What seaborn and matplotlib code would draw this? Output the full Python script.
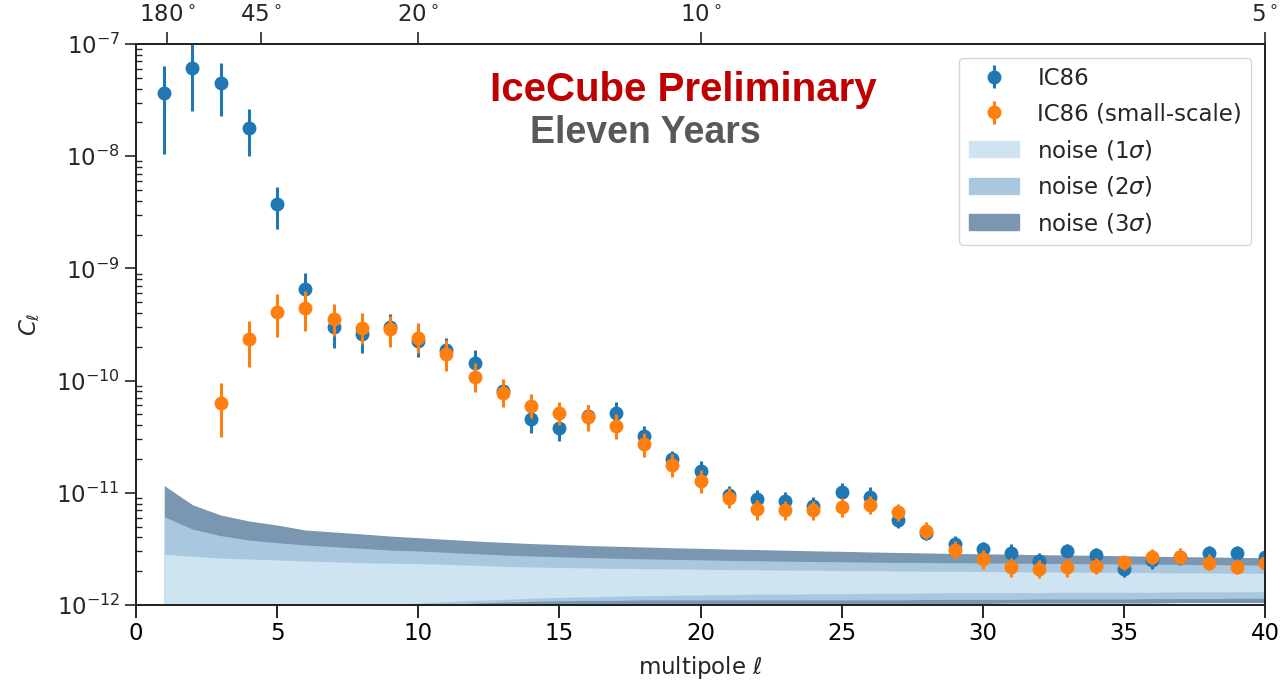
import numpy as np
import matplotlib
matplotlib.use("Agg")
import matplotlib.pyplot as plt
from matplotlib.patches import Patch
import seaborn as sns

# multipoles
ell = list(range(1, 41))
ell_small = list(range(3, 41))

# IC86 angular power spectrum with error bar ends
ic86 = [3.68e-8, 6.07e-8, 4.49e-8, 1.78e-8, 3.73e-9, 6.55e-10, 3.02e-10, 2.60e-10, 3.02e-10, 2.27e-10,
        1.87e-10, 1.44e-10, 8.13e-11, 4.55e-11, 3.80e-11, 4.84e-11, 5.18e-11, 3.21e-11, 1.99e-11, 1.57e-11,
        9.56e-12, 8.81e-12, 8.50e-12, 7.63e-12, 1.02e-11, 9.23e-12, 5.72e-12, 4.36e-12, 3.48e-12, 3.15e-12,
        2.92e-12, 2.48e-12, 3.03e-12, 2.79e-12, 2.11e-12, 2.52e-12, 2.66e-12, 2.92e-12, 2.92e-12, 2.69e-12]
ic86_hi = [6.41e-8, 1.05e-7, 6.73e-8, 2.62e-8, 5.28e-9, 9.15e-10, 4.09e-10, 3.47e-10, 3.92e-10, 3.07e-10,
           2.40e-10, 1.87e-10, 1.01e-10, 5.82e-11, 4.94e-11, 6.06e-11, 6.48e-11, 3.96e-11, 2.37e-11, 1.92e-11,
           1.15e-11, 1.06e-11, 1.02e-11, 9.18e-12, 1.23e-11, 1.12e-11, 6.88e-12, 5.16e-12, 4.12e-12, 3.66e-12,
           3.48e-12, 2.89e-12, 3.50e-12, 3.24e-12, 2.49e-12, 2.97e-12, 3.12e-12, 3.36e-12, 3.36e-12, 3.15e-12]
ic86_lo = [1.05e-8, 2.53e-8, 2.27e-8, 9.98e-9, 2.23e-9, 4.62e-10, 1.96e-10, 1.77e-10, 2.30e-10, 1.62e-10,
           1.46e-10, 1.12e-10, 6.58e-11, 3.43e-11, 2.90e-11, 3.78e-11, 4.10e-11, 2.61e-11, 1.66e-11, 1.30e-11,
           7.95e-12, 7.32e-12, 7.17e-12, 6.34e-12, 8.45e-12, 7.79e-12, 4.83e-12, 3.80e-12, 2.97e-12, 2.73e-12,
           2.52e-12, 2.14e-12, 2.62e-12, 2.42e-12, 1.77e-12, 2.09e-12, 2.27e-12, 2.57e-12, 2.57e-12, 2.32e-12]

# IC86 small-scale spectrum (from l = 3)
small = [6.28e-11, 2.36e-10, 4.11e-10, 4.41e-10, 3.54e-10, 2.96e-10, 2.88e-10, 2.41e-10,
         1.72e-10, 1.08e-10, 7.80e-11, 5.97e-11, 5.14e-11, 4.77e-11, 3.94e-11, 2.71e-11, 1.77e-11, 1.28e-11,
         8.93e-12, 7.17e-12, 6.98e-12, 7.03e-12, 7.43e-12, 7.74e-12, 6.70e-12, 4.56e-12, 3.09e-12, 2.55e-12,
         2.17e-12, 2.11e-12, 2.17e-12, 2.23e-12, 2.40e-12, 2.66e-12, 2.69e-12, 2.38e-12, 2.17e-12, 2.35e-12]
small_hi = [9.46e-11, 3.40e-10, 5.88e-10, 6.29e-10, 4.82e-10, 4.03e-10, 3.77e-10, 3.24e-10,
            2.30e-10, 1.44e-10, 1.03e-10, 7.55e-11, 6.48e-11, 6.06e-11, 5.04e-11, 3.41e-11, 2.22e-11, 1.60e-11,
            1.10e-11, 8.63e-12, 8.45e-12, 8.45e-12, 8.99e-12, 9.36e-12, 7.95e-12, 5.46e-12, 3.72e-12, 3.09e-12,
            2.62e-12, 2.52e-12, 2.62e-12, 2.64e-12, 2.75e-12, 3.14e-12, 3.20e-12, 2.85e-12, 2.57e-12, 2.79e-12]
small_lo = [3.16e-11, 1.31e-10, 2.46e-10, 2.78e-10, 2.50e-10, 2.12e-10, 2.00e-10, 1.76e-10,
            1.22e-10, 7.96e-11, 5.78e-11, 4.64e-11, 4.02e-11, 3.58e-11, 3.00e-11, 2.07e-11, 1.39e-11, 1.00e-11,
            7.28e-12, 5.72e-12, 5.72e-12, 5.72e-12, 6.12e-12, 6.43e-12, 5.61e-12, 3.88e-12, 2.57e-12, 2.09e-12,
            1.79e-12, 1.75e-12, 1.79e-12, 1.88e-12, 2.05e-12, 2.27e-12, 2.32e-12, 2.05e-12, 1.88e-12, 2.01e-12]

# isotropic noise bands
noise1_hi = [2.83e-12, 2.72e-12, 2.62e-12, 2.57e-12, 2.52e-12, 2.47e-12, 2.43e-12, 2.38e-12, 2.36e-12, 2.34e-12,
             2.30e-12, 2.26e-12, 2.21e-12, 2.18e-12, 2.16e-12, 2.14e-12, 2.12e-12, 2.11e-12, 2.10e-12, 2.08e-12,
             2.07e-12, 2.06e-12, 2.05e-12, 2.04e-12, 2.03e-12, 2.02e-12, 2.01e-12, 2.00e-12, 2.00e-12, 1.99e-12,
             1.98e-12, 1.97e-12, 1.96e-12, 1.96e-12, 1.95e-12, 1.94e-12, 1.93e-12, 1.93e-12, 1.92e-12, 1.92e-12]
noise1_lo = [1e-13, 1e-13, 1e-13, 1e-13, 1e-13, 1e-13, 9.7e-13, 1.00e-12, 1.02e-12, 1.04e-12,
             1.07e-12, 1.10e-12, 1.12e-12, 1.15e-12, 1.17e-12, 1.18e-12, 1.20e-12, 1.21e-12, 1.22e-12, 1.23e-12,
             1.24e-12, 1.25e-12, 1.25e-12, 1.26e-12, 1.26e-12, 1.27e-12, 1.27e-12, 1.28e-12, 1.29e-12, 1.29e-12,
             1.29e-12, 1.29e-12, 1.30e-12, 1.30e-12, 1.30e-12, 1.30e-12, 1.31e-12, 1.31e-12, 1.31e-12, 1.32e-12]
noise2_hi = [6.12e-12, 4.75e-12, 4.15e-12, 3.80e-12, 3.59e-12, 3.43e-12, 3.31e-12, 3.20e-12, 3.09e-12, 3.03e-12,
             2.95e-12, 2.87e-12, 2.79e-12, 2.74e-12, 2.69e-12, 2.65e-12, 2.61e-12, 2.58e-12, 2.55e-12, 2.53e-12,
             2.50e-12, 2.48e-12, 2.46e-12, 2.44e-12, 2.43e-12, 2.41e-12, 2.40e-12, 2.39e-12, 2.38e-12, 2.37e-12,
             2.36e-12, 2.35e-12, 2.34e-12, 2.33e-12, 2.32e-12, 2.31e-12, 2.30e-12, 2.29e-12, 2.28e-12, 2.27e-12]
noise2_lo = [1e-13, 1e-13, 1e-13, 1e-13, 1e-13, 1e-13, 1e-13, 1e-13, 1e-13, 9.8e-13,
             1.01e-12, 1.04e-12, 1.06e-12, 1.08e-12, 1.09e-12, 1.10e-12, 1.10e-12, 1.11e-12, 1.11e-12, 1.11e-12,
             1.11e-12, 1.11e-12, 1.11e-12, 1.11e-12, 1.11e-12, 1.11e-12, 1.11e-12, 1.12e-12, 1.12e-12, 1.12e-12,
             1.12e-12, 1.13e-12, 1.13e-12, 1.13e-12, 1.13e-12, 1.14e-12, 1.14e-12, 1.14e-12, 1.15e-12, 1.15e-12]
noise3_hi = [1.16e-11, 7.83e-12, 6.34e-12, 5.61e-12, 5.16e-12, 4.66e-12, 4.48e-12, 4.30e-12, 4.12e-12, 3.98e-12,
             3.85e-12, 3.72e-12, 3.62e-12, 3.53e-12, 3.46e-12, 3.39e-12, 3.34e-12, 3.29e-12, 3.24e-12, 3.20e-12,
             3.15e-12, 3.12e-12, 3.08e-12, 3.04e-12, 3.01e-12, 2.97e-12, 2.94e-12, 2.91e-12, 2.88e-12, 2.86e-12,
             2.84e-12, 2.81e-12, 2.79e-12, 2.77e-12, 2.75e-12, 2.72e-12, 2.70e-12, 2.68e-12, 2.66e-12, 2.64e-12]
noise3_lo = [1e-13, 1e-13, 1e-13, 1e-13, 1e-13, 1e-13, 1e-13, 1e-13, 1e-13, 1e-13,
             1e-13, 9.9e-13, 1.00e-12, 1.00e-12, 1.01e-12, 1.01e-12, 1.01e-12, 1.01e-12, 1.02e-12, 1.02e-12,
             1.02e-12, 1.02e-12, 1.02e-12, 1.02e-12, 1.03e-12, 1.03e-12, 1.03e-12, 1.03e-12, 1.03e-12, 1.03e-12,
             1.04e-12, 1.04e-12, 1.04e-12, 1.04e-12, 1.04e-12, 1.04e-12, 1.05e-12, 1.05e-12, 1.05e-12, 1.05e-12]

# angular scale ticks on the top axis
top_labels = ["180", "45", "20", "10", "5"]
top_degrees = [180, 45, 20, 10, 5]

sns.set_theme(style="ticks")
plt.rcParams["font.family"] = ["DejaVu Sans"]
plt.rcParams["mathtext.fontset"] = "dejavusans"

pal = sns.color_palette("tab10")
c_blue, c_orange = pal[0], pal[1]
c_n1, c_n2, c_n3 = "#cfe4f1", "#a9c8df", "#7b96b1"

FS = 16.5

fig = plt.figure(figsize=(12.86, 6.84), dpi=100)
ax = fig.add_axes([136 / 1286, 1 - 605 / 684, 1129 / 1286, 561 / 684])

ax.fill_between(ell, noise3_lo, noise3_hi, color=c_n3, lw=0, zorder=1)
ax.fill_between(ell, noise2_lo, noise2_hi, color=c_n2, lw=0, zorder=1.1)
ax.fill_between(ell, noise1_lo, noise1_hi, color=c_n1, lw=0, zorder=1.2)

v = np.array(ic86)
ax.errorbar(ell, v, yerr=[v - np.array(ic86_lo), np.array(ic86_hi) - v], fmt="o",
            color=c_blue, ms=9, elinewidth=2.2, capsize=0, zorder=3)
s = np.array(small)
ax.errorbar(ell_small, s, yerr=[s - np.array(small_lo), np.array(small_hi) - s], fmt="o",
            color=c_orange, ms=9, elinewidth=2.2, capsize=0, zorder=4)

ax.set_yscale("log")
ax.set_xlim(0, 40)
ax.set_ylim(1e-12, 1e-7)
ax.set_xticks(range(0, 41, 5))
ax.tick_params(axis="x", which="major", direction="out", length=9, width=1.2, labelsize=FS, colors="black")
ax.tick_params(axis="y", which="major", direction="out", length=8, width=1.2, labelsize=FS)
ax.tick_params(axis="y", which="minor", direction="in", length=4, width=1)
for sp in ax.spines.values():
    sp.set_linewidth(1.3)
    sp.set_color("black")

ax.set_xlabel(r"multipole $\ell$", fontsize=FS, labelpad=6)
ax.set_ylabel(r"$C_\ell$", fontsize=FS, labelpad=10)

# top axis: angular scale theta ~ 200 deg / l
ax2 = ax.twiny()
ax2.set_xlim(ax.get_xlim())
ax2.set_xticks([200 / d for d in top_degrees])
ax2.set_xticklabels([rf"${t}^\circ$" for t in top_labels])
ax2.tick_params(axis="x", direction="out", length=9, width=1.2, labelsize=FS, pad=3)
ax2.grid(False)

ax.text(0.4845, 0.918, "IceCube Preliminary", transform=ax.transAxes, ha="center", va="center",
        fontsize=29, fontweight="bold", color="#c00000", family="Liberation Sans", zorder=6)
ax.text(0.451, 0.841, "Eleven Years", transform=ax.transAxes, ha="center", va="center",
        fontsize=27, fontweight="bold", color="#595959", family="Liberation Sans", zorder=6)

h_blue = ax.errorbar([], [], yerr=[], fmt="o", color=c_blue, ms=9, elinewidth=2.2)
h_orange = ax.errorbar([], [], yerr=[], fmt="o", color=c_orange, ms=9, elinewidth=2.2)
handles = [h_blue, h_orange, Patch(color=c_n1), Patch(color=c_n2), Patch(color=c_n3)]
labels = ["IC86", "IC86 (small-scale)", r"noise (1$\sigma$)", r"noise (2$\sigma$)", r"noise (3$\sigma$)"]
leg = ax.legend(handles, labels, loc="upper right", fontsize=16.5, frameon=True,
                borderaxespad=0.6, labelspacing=0.55, handlelength=2.2)
leg.get_frame().set_edgecolor("#cccccc")

fig.savefig("out.png", dpi=100)
